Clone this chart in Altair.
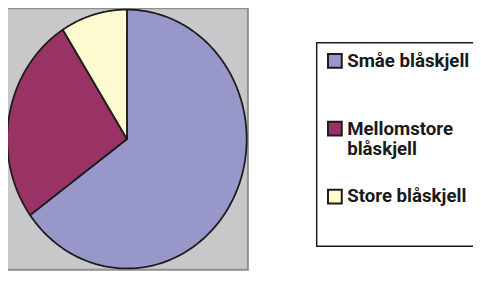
import altair as alt
import pandas as pd

categories = ["Småe blåskjell", "Mellomstore blåskjell", "Store blåskjell"]
shares = [65, 26, 9]
colors = ["#9797CA", "#993366", "#FFFBD0"]

df = pd.DataFrame({"kategori": categories, "andel": shares, "rekkefolge": list(range(len(categories)))})

N = 120
FONT = "Roboto, Liberation Sans, sans-serif"

chart = (
    alt.Chart(df)
    .transform_window(cum="sum(andel)", sort=[alt.SortField("rekkefolge")], frame=[None, 0])
    .transform_joinaggregate(total="sum(andel)")
    .transform_calculate(
        start="(datum.cum - datum.andel) / datum.total",
        end="datum.cum / datum.total",
        steps=f"sequence(-1, {N + 1})",
    )
    .transform_flatten(["steps"])
    .transform_calculate(
        frac=f"datum.start + (datum.end - datum.start) * datum.steps / {N}",
    )
    .transform_calculate(
        px="datum.steps < 0 ? 0 : sin(2 * PI * datum.frac)",
        py="datum.steps < 0 ? 0 : cos(2 * PI * datum.frac)",
    )
    .mark_line(interpolate="linear-closed", stroke="#1c1c1c", strokeWidth=1.8, strokeJoin="round")
    .encode(
        x=alt.X("px:Q", scale=alt.Scale(domain=[-1.01, 1.01], nice=False), axis=None),
        y=alt.Y("py:Q", scale=alt.Scale(domain=[-1.01, 1.01], nice=False), axis=None),
        order=alt.Order("steps:Q"),
        fill=alt.Fill(
            "kategori:N",
            scale=alt.Scale(domain=categories, range=colors),
            legend=alt.Legend(
                title=" ",
                titleOrient="bottom",
                titleFontSize=10,
                titlePadding=20,
                orient="none",
                legendX=316,
                legendY=35,
                symbolType="square",
                symbolSize=196,
                symbolStrokeColor="#1c1c1c",
                symbolStrokeWidth=2,
                symbolOpacity=1,
                labelFont=FONT,
                labelFontSize=19,
                labelFontWeight="bold",
                labelColor="#1a1a1a",
                labelLimit=400,
                labelOffset=3,
                labelExpr=(
                    "datum.label == 'Mellomstore blåskjell' ? ['Mellomstore', 'blåskjell'] : "
                    "datum.label == 'Småe blåskjell' ? ['Småe blåskjell', ''] : datum.label"
                ),
                rowPadding=26,
                strokeColor="#1a1a1a",
                fillColor="#ffffff",
                padding=9,
            ),
        ),
    )
    .properties(
        width=246,
        height=266,
        autosize=alt.AutoSizeParams(type="none"),
        padding={"left": -2, "top": -2, "right": 229, "bottom": 2},
    )
    .configure_view(fill="#C8C8CA", stroke="#8E8E90", strokeWidth=2)
    .configure_legend(strokeWidth=1.5)
)

chart.save("out.html", embed_options={"renderer": "svg", "actions": False})
